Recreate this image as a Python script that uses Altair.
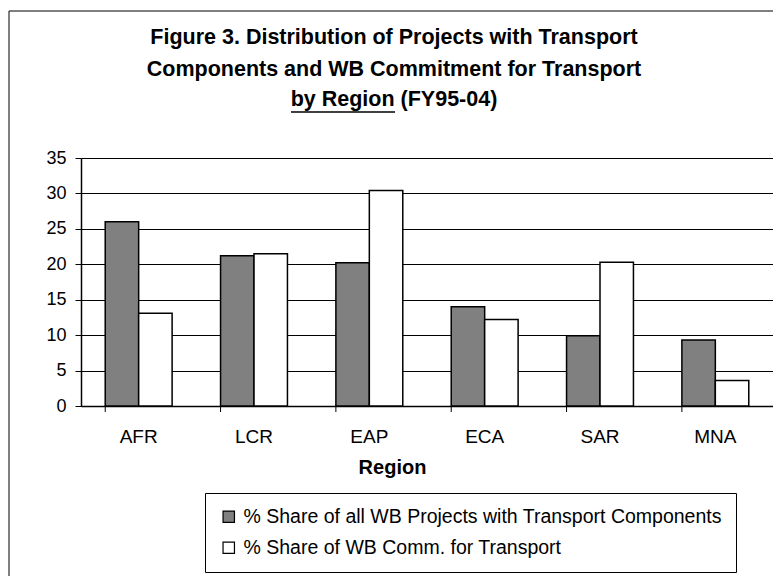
import altair as alt
import pandas as pd

regions = ["AFR", "LCR", "EAP", "ECA", "SAR", "MNA"]
series_names = [
    "% Share of all WB Projects with Transport Components",
    "% Share of WB Comm. for Transport",
]
share_projects = [26.0, 21.2, 20.2, 14.0, 9.9, 9.3]
share_commitment = [13.1, 21.5, 30.4, 12.2, 20.3, 3.6]
y_ticks = [0, 5, 10, 15, 20, 25, 30, 35]
title_lines = [
    "Figure 3.  Distribution of Projects with Transport",
    "Components and WB Commitment for Transport",
    "by Region (FY95-04)",
]

rows = []
for r, a, b in zip(regions, share_projects, share_commitment):
    rows.append({"region": r, "series": series_names[0], "value": a})
    rows.append({"region": r, "series": series_names[1], "value": b})
df = pd.DataFrame(rows)
cat_df = pd.DataFrame({"region": regions})
one = cat_df.head(1)

FONT = "Liberation Sans"
W, H = 692, 248

xscale = alt.Scale(domain=regions, paddingInner=0.42, paddingOuter=0.21)

bars = alt.Chart(df).mark_bar(stroke="black", strokeWidth=1.5).encode(
    x=alt.X("region:N", scale=xscale, sort=regions,
            axis=alt.Axis(title="Region", labelAngle=0, labelFontSize=19,
                          labelFont=FONT, labelColor="black", labelPadding=21,
                          ticks=False, domainColor="black", domainWidth=1.5,
                          titleFont=FONT, titleFontSize=20, titleFontWeight="bold",
                          titleColor="black", titleX=311, titleY=61,
                          titleBaseline="middle")),
    xOffset=alt.XOffset("series:N", sort=series_names,
                        scale=alt.Scale(paddingInner=0, paddingOuter=0)),
    y=alt.Y("value:Q", scale=alt.Scale(domain=[0, 35], nice=False),
            axis=alt.Axis(title=None, values=y_ticks, labelFontSize=18,
                          labelFont=FONT, labelColor="black", tickSize=6,
                          tickColor="black", labelPadding=9, gridColor="black",
                          gridWidth=1, domainColor="black", domainWidth=1.5)),
    fill=alt.Fill("series:N", sort=series_names,
                  scale=alt.Scale(domain=series_names, range=["#808080", "#ffffff"]),
                  legend=alt.Legend(title=None, orient="none", legendX=124,
                                    legendY=335, strokeColor="black",
                                    fillColor="white", padding=14,
                                    labelFontSize=19.5, labelFont=FONT,
                                    labelColor="black", labelLimit=700,
                                    symbolType="square", symbolSize=130,
                                    symbolStrokeColor="black",
                                    symbolStrokeWidth=1.2, rowPadding=10,
                                    labelOffset=5)),
)

xticks = alt.Chart(cat_df).mark_rule(color="black", strokeWidth=1).encode(
    x=alt.X("region:N", scale=xscale, sort=regions, bandPosition=0),
    y=alt.value(H),
    y2=alt.value(H + 6),
)

frame_left = alt.Chart(one).mark_rule(color="black", strokeWidth=1).encode(
    x=alt.value(-72), y=alt.value(-147), y2=alt.value(H + 170))
frame_top = alt.Chart(one).mark_rule(color="black", strokeWidth=1).encode(
    x=alt.value(-72), x2=alt.value(W), y=alt.value(-147))
underline = alt.Chart(one).mark_rule(color="black", strokeWidth=1.5).encode(
    x=alt.value(210), x2=alt.value(314), y=alt.value(-46))

title_layers = []
for line, ypos in zip(title_lines, [-120, -88, -58]):
    title_layers.append(
        alt.Chart(one).mark_text(font=FONT, fontSize=21.5, fontWeight="bold",
                                 color="black", align="center",
                                 baseline="middle").encode(
            x=alt.value(313), y=alt.value(ypos), text=alt.value(line))
    )

chart = alt.layer(bars, xticks, frame_left, frame_top, underline,
                  *title_layers).properties(
    width=W,
    height=H,
    autosize=alt.AutoSizeParams(type="none"),
    padding={"left": 73, "top": 150, "right": 0, "bottom": 170},
).configure_view(stroke=None).configure(background="white")

chart.save("out.html", embed_options={"renderer": "svg", "actions": False})
